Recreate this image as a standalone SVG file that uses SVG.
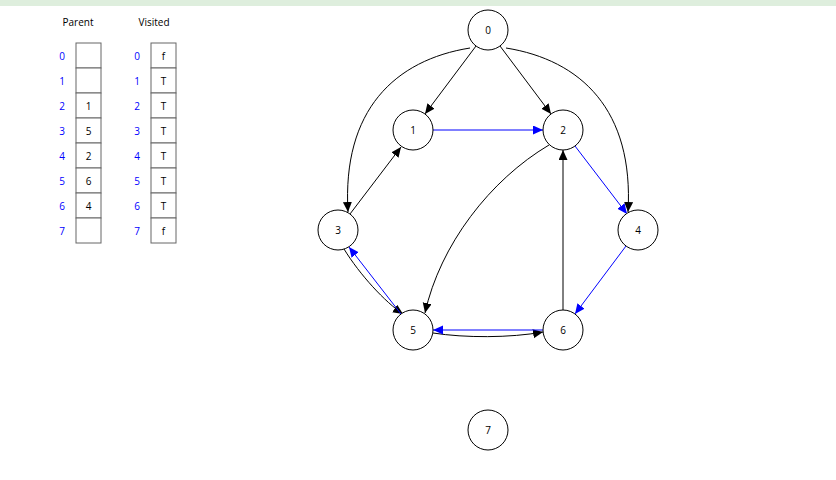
<svg xmlns="http://www.w3.org/2000/svg" width="836" height="480" viewBox="0 0 836 480">
<style>
text{font-family:"Open Sans","Liberation Sans",sans-serif;font-size:10px;fill:#000;text-anchor:middle;dominant-baseline:central}
.idx{fill:#0000ff}
.cell{fill:#fff;stroke:#666;stroke-width:1}
.node circle{fill:#fff;stroke:#000;stroke-width:1}
.e{fill:none;stroke:#000;stroke-width:1;marker-end:url(#ab)}
.b{fill:none;stroke:#0000ff;stroke-width:1;marker-end:url(#abl)}
</style>
<defs>
<marker id="ab" markerUnits="userSpaceOnUse" markerWidth="10" markerHeight="10" refX="10" refY="4.5" orient="auto"><path d="M0,0 L10,4.5 L0,9 z" fill="#000"/></marker>
<marker id="abl" markerUnits="userSpaceOnUse" markerWidth="10" markerHeight="10" refX="10" refY="4.5" orient="auto"><path d="M0,0 L10,4.5 L0,9 z" fill="#0000ff"/></marker>
</defs>
<rect x="0" y="0" width="836" height="6" fill="#deeedd"/>
<g id="tables">
<text x="78" y="22">Parent</text>
<text x="154" y="22">Visited</text>
<g id="parent">
<rect class="cell" x="76" y="43" width="25" height="25"/><rect class="cell" x="76" y="68" width="25" height="25"/>
<rect class="cell" x="76" y="93" width="25" height="25"/><rect class="cell" x="76" y="118" width="25" height="25"/>
<rect class="cell" x="76" y="143" width="25" height="25"/><rect class="cell" x="76" y="168" width="25" height="25"/>
<rect class="cell" x="76" y="193" width="25" height="25"/><rect class="cell" x="76" y="218" width="25" height="25"/>
<text class="idx" x="62" y="55.5">0</text><text class="idx" x="62" y="80.5">1</text><text class="idx" x="62" y="105.5">2</text><text class="idx" x="62" y="130.5">3</text>
<text class="idx" x="62" y="155.5">4</text><text class="idx" x="62" y="180.5">5</text><text class="idx" x="62" y="205.5">6</text><text class="idx" x="62" y="230.5">7</text>
<text x="88.5" y="105.5">1</text><text x="88.5" y="130.5">5</text><text x="88.5" y="155.5">2</text><text x="88.5" y="180.5">6</text><text x="88.5" y="205.5">4</text>
</g>
<g id="visited">
<rect class="cell" x="151" y="43" width="25" height="25"/><rect class="cell" x="151" y="68" width="25" height="25"/>
<rect class="cell" x="151" y="93" width="25" height="25"/><rect class="cell" x="151" y="118" width="25" height="25"/>
<rect class="cell" x="151" y="143" width="25" height="25"/><rect class="cell" x="151" y="168" width="25" height="25"/>
<rect class="cell" x="151" y="193" width="25" height="25"/><rect class="cell" x="151" y="218" width="25" height="25"/>
<text class="idx" x="137" y="55.5">0</text><text class="idx" x="137" y="80.5">1</text><text class="idx" x="137" y="105.5">2</text><text class="idx" x="137" y="130.5">3</text>
<text class="idx" x="137" y="155.5">4</text><text class="idx" x="137" y="180.5">5</text><text class="idx" x="137" y="205.5">6</text><text class="idx" x="137" y="230.5">7</text>
<text x="163.5" y="55.5">f</text><text x="163.5" y="80.5">T</text><text x="163.5" y="105.5">T</text><text x="163.5" y="130.5">T</text>
<text x="163.5" y="155.5">T</text><text x="163.5" y="180.5">T</text><text x="163.5" y="205.5">T</text><text x="163.5" y="230.5">f</text>
</g>
</g>
<g id="edges">
<path class="e" d="M476,46 L425,114"/>
<path class="e" d="M500,46 L551,114"/>
<path class="e" d="M470,48 C395,60 342,110 348,212"/>
<path class="e" d="M506,48 C581,60 634,110 628,212"/>
<path class="b" d="M433,130 L543,130"/>
<path class="e" d="M350,214 L401,147"/>
<path class="e" d="M549,145 C490,180 440,245 425,313"/>
<path class="e" d="M563,310 L563,150"/>
<path class="b" d="M575,146 L627,214"/>
<path class="b" d="M626,246 L575,314"/>
<path class="e" d="M344,249 C360,275 385,302 403,314"/>
<path class="b" d="M401,314 L349,247"/>
<path class="e" d="M433,333 C465,338 510,338 543,332"/>
<path class="b" d="M543,330 L433,330"/>
</g>
<g id="node0" class="node"><circle cx="488" cy="30" r="20"/><text x="488" y="30">0</text></g>
<g id="node1" class="node"><circle cx="413" cy="130" r="20"/><text x="413" y="130">1</text></g>
<g id="node2" class="node"><circle cx="563" cy="130" r="20"/><text x="563" y="130">2</text></g>
<g id="node3" class="node"><circle cx="338" cy="230" r="20"/><text x="338" y="230">3</text></g>
<g id="node4" class="node"><circle cx="638" cy="230" r="20"/><text x="638" y="230">4</text></g>
<g id="node5" class="node"><circle cx="413" cy="330" r="20"/><text x="413" y="330">5</text></g>
<g id="node6" class="node"><circle cx="563" cy="330" r="20"/><text x="563" y="330">6</text></g>
<g id="node7" class="node"><circle cx="488" cy="430" r="20"/><text x="488" y="430">7</text></g>
</svg>
